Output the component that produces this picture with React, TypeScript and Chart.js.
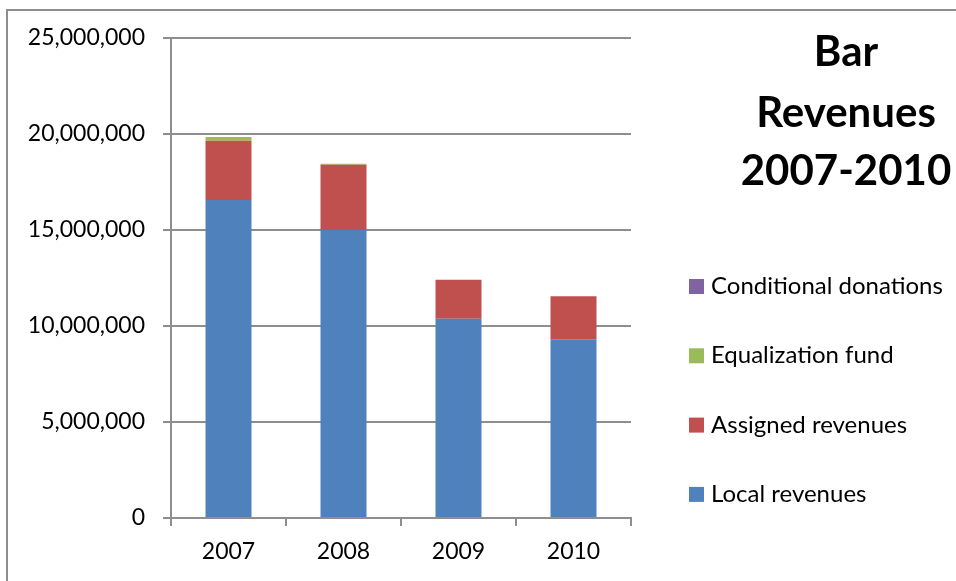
import React, { useEffect, useRef } from 'react';
import { Chart, registerables } from 'chart.js';

Chart.register(...registerables);

const categories = ['2007', '2008', '2009', '2010'];
const localRevenues = [16560000, 15000000, 10380000, 9310000];
const assignedRevenues = [3090000, 3400000, 2030000, 2240000];
const equalizationFund = [200000, 50000, 0, 0];
const conditionalDonations = [0, 0, 0, 0];
const seriesNames = ['Local revenues', 'Assigned revenues', 'Equalization fund', 'Conditional donations'];
const seriesColors = ['#4F81BD', '#C0504D', '#9BBB59', '#8064A2'];
const titleLines = ['Bar', 'Revenues', '2007-2010'];
const yMin = 0;
const yMax = 25000000;
const yStep = 5000000;

const FONT = 'Lato, "Open Sans", sans-serif';
const GRID = '#8e8e8e';

const overlayPlugin = {
  id: 'overlay',
  beforeDraw(chart: any) {
    const ctx = chart.ctx;
    ctx.save();
    ctx.fillStyle = '#ffffff';
    ctx.fillRect(0, 0, chart.width, chart.height);
    ctx.strokeStyle = GRID;
    ctx.lineWidth = 2;
    ctx.beginPath();
    ctx.moveTo(7, chart.height);
    ctx.lineTo(7, 10);
    ctx.lineTo(chart.width, 10);
    ctx.stroke();
    ctx.restore();
  },
  afterDraw(chart: any) {
    const ctx = chart.ctx;
    ctx.save();
    // title
    ctx.fillStyle = '#000000';
    ctx.textAlign = 'center';
    ctx.textBaseline = 'alphabetic';
    ctx.font = `bold 42px ${FONT}`;
    const titleBaselines = [66, 126.5, 185];
    titleLines.forEach((t, i) => ctx.fillText(t, 846, titleBaselines[i]));
    // legend (reverse order)
    ctx.textAlign = 'left';
    ctx.font = `24px ${FONT}`;
    const ds = [...chart.data.datasets].reverse();
    ds.forEach((d: any, i: number) => {
      const base = 294 + i * 69.3;
      ctx.fillStyle = d.backgroundColor;
      ctx.fillRect(689, base - 15, 15, 15);
      ctx.fillStyle = '#000000';
      ctx.fillText(d.label, 711, base);
    });
    ctx.restore();
  },
};

export default function App() {
  const ref = useRef<HTMLCanvasElement>(null);
  useEffect(() => {
    if (!ref.current) return;
    const seriesData = [localRevenues, assignedRevenues, equalizationFund, conditionalDonations];
    const chart = new Chart(ref.current, {
      type: 'bar',
      data: {
        labels: categories,
        datasets: seriesNames.map((name, i) => ({
          label: name,
          data: seriesData[i],
          backgroundColor: seriesColors[i],
          borderWidth: 0,
          barPercentage: 0.4,
          categoryPercentage: 1,
        })),
      },
      options: {
        responsive: false,
        animation: false,
        devicePixelRatio: 1,
        layout: { padding: { top: 38, right: 325, left: 0, bottom: 0 } },
        plugins: { legend: { display: false }, title: { display: false }, tooltip: { enabled: false } },
        scales: {
          x: {
            stacked: true,
            offset: true,
            grid: { drawOnChartArea: false, drawTicks: true, tickLength: 8, offset: true, color: GRID, lineWidth: 2 },
            border: { display: true, color: GRID, width: 2 },
            ticks: { color: '#000', font: { family: FONT, size: 23 }, padding: 12 },
            afterFit(scale: any) { scale.height = 63; },
          },
          y: {
            stacked: true,
            min: yMin,
            max: yMax,
            ticks: {
              stepSize: yStep,
              color: '#000',
              font: { family: FONT, size: 23 },
              padding: 18,
              callback: (v: any) => Number(v).toLocaleString('en-US'),
            },
            grid: { color: GRID, lineWidth: 2, tickLength: 8, drawTicks: true },
            border: { display: true, color: GRID, width: 2 },
            afterFit(scale: any) { scale.width = 171; },
          },
        },
      },
      plugins: [overlayPlugin],
    });
    return () => chart.destroy();
  }, []);
  return (
    <div style={{ position: 'fixed', left: 0, top: 0, width: 956, height: 581, background: '#fff' }}>
      <canvas ref={ref} width={956} height={581} style={{ width: 956, height: 581, display: 'block' }} />
    </div>
  );
}
